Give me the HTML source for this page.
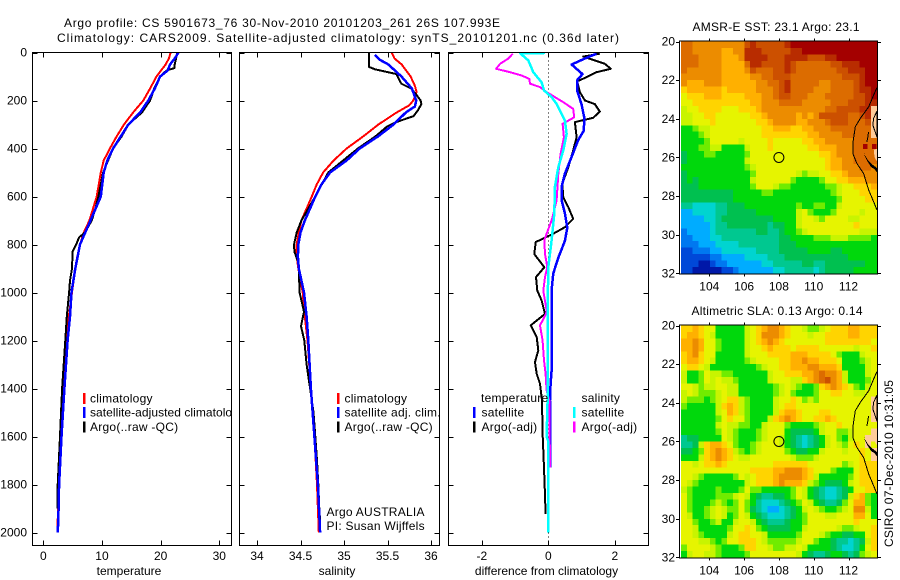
<!DOCTYPE html>
<html>
<head>
<meta charset="utf-8">
<title>Argo profile</title>
<style>
html,body{margin:0;padding:0;background:#fff;width:900px;height:580px;overflow:hidden}
svg{display:block}
text{font-family:"Liberation Sans",Arial,sans-serif;font-size:12px;fill:#000}
</style>
</head>
<body>
<svg id="figure" xmlns="http://www.w3.org/2000/svg" width="900" height="580" viewBox="0 0 900 580">
  <rect x="0" y="0" width="900" height="580" fill="#fff"/>
  <text x="64" y="27" textLength="436" lengthAdjust="spacing">Argo profile: CS 5901673_76 30-Nov-2010 20101203_261 26S 107.993E</text>
  <text x="57" y="42" textLength="562" lengthAdjust="spacing">Climatology: CARS2009. Satellite-adjusted climatology: synTS_20101201.nc (0.36d later)</text>
  <g id="panels"></g>
  <g id="maps"></g>
  <text x="692.5" y="31" textLength="167" lengthAdjust="spacing">AMSR-E SST: 23.1  Argo: 23.1</text>
  <text x="691.5" y="315" textLength="171" lengthAdjust="spacing">Altimetric SLA: 0.13 Argo: 0.14</text>
  <text transform="translate(893,547) rotate(-90)" textLength="167" lengthAdjust="spacing">CSIRO 07-Dec-2010 10:31:05</text>
</svg>
<script>
// ---------- profile data ----------
const depthTicks = [0,200,400,600,800,1000,1200,1400,1600,1800,2000];
const tempTicks = [0,10,20,30];
const salTicks = [34,34.5,35,35.5,36];
const salTickLabels = ["34","34.5","35","35.5","36"];
const diffTicks = [-2,0,2];
const diffTickLabels = ["-2","0","2"];

const tempClimDepth = [0,25,50,100,150,200,250,300,350,400,450,500,600,700,750,800,850,900,1000,1100,1200,1400,1600,1800,1950,2000];
const tempClimValue = [21.7,21.4,20.85,19.3,18.2,17.05,15.3,13.75,12.5,11.35,10.3,9.8,9.1,7.85,6.9,6.25,5.8,5.45,4.9,4.35,4.05,3.5,3.05,2.65,2.45,2.4];
const tempSatDepth = [0,25,50,75,100,150,200,250,300,350,400,450,500,600,700,800,900,1000,1100,1200,1400,1600,1800,1950,2000];
const tempSatValue = [23.05,22.4,21.6,21.2,19.9,19,17.9,16.5,14.5,13.2,11.9,10.9,10.3,9.8,8.05,6.25,5.45,4.8,4.55,4.15,3.6,3.1,2.7,2.55,2.45];
const tempArgoDepth = [0,50,65,75,100,150,200,250,300,350,400,500,600,650,700,750,770,800,830,900,950,1000,1100,1200,1400,1600,1800,1900];
const tempArgoValue = [22.85,22.4,22.35,21,19.9,18.9,18.2,16.8,14.5,13.35,11.9,10.2,9.4,8.9,8.25,7.1,6.1,5.6,5,4.9,4.55,4.4,4,3.75,3.2,2.85,2.45,2.4];

const salClimDepth = [0,25,50,100,140,165,200,220,250,300,350,400,450,500,550,600,700,750,800,850,900,1000,1100,1200,1400,1600,1800,2000];
const salClimValue = [35.548,35.58,35.663,35.766,35.816,35.835,35.797,35.75,35.605,35.395,35.22,35.03,34.88,34.76,34.686,34.63,34.51,34.48,34.456,34.456,34.475,34.525,34.55,34.58,34.62,34.66,34.69,34.71];
const salSatDepth = [10,30,50,100,150,200,225,250,300,350,400,450,500,550,600,650,700,750,800,850,900,1000,1100,1200,1400,1600,1800,2000];
const salSatValue = [35.356,35.41,35.51,35.66,35.78,35.83,35.815,35.71,35.57,35.39,35.18,35.03,34.84,34.74,34.67,34.61,34.55,34.5,34.475,34.47,34.48,34.54,34.57,34.59,34.62,34.66,34.70,34.725];
const salArgoDepth = [0,60,70,90,110,130,150,175,200,215,240,265,290,310,350,400,450,500,600,700,750,800,830,870,900,1000,1080,1140,1200,1300,1400,1500,1600,1700,1800,1900,1950];
const salArgoValue = [35.287,35.287,35.356,35.605,35.63,35.66,35.77,35.83,35.88,35.89,35.85,35.8,35.6,35.49,35.36,35.16,34.99,34.82,34.67,34.51,34.456,34.425,34.43,34.47,34.48,34.49,34.54,34.506,34.544,34.57,34.61,34.65,34.67,34.69,34.705,34.716,34.725];

const diffTempSatDepth = [5,25,50,90,115,160,215,270,325,365,435,505,560,615,670,730,785,855,920,990,1075,1325,1380,1450,1730];
const diffTempSatValue = [1.45,1.1,0.7,1.03,0.87,0.87,1,1.08,1.07,0.9,0.7,0.5,0.4,0.4,0.5,0.57,0.5,0.3,0.15,0.1,0.1,0.1,0.07,0.05,0.05];
const diffTempArgoDepth = [5,17,33,47,68,82,103,120,165,200,215,246,272,290,353,408,478,547,603,644,693,728,755,790,840,867,895,936,992,1033,1089,1137,1186,1241,1290,1339,1380,1450,1589,1658,1797,1922];
const diffTempArgoValue = [1.55,1.05,1.4,1.7,1.88,1.45,1.15,0.87,0.95,1.1,1.4,1.55,1.35,0.8,0.85,0.75,0.6,0.42,0.45,0.6,0.75,0.5,0.15,-0.38,-0.42,-0.27,-0.12,-0.37,-0.33,-0.2,-0.1,-0.53,-0.35,-0.3,-0.4,-0.35,-0.25,-0.19,-0.17,-0.15,-0.11,-0.08];
const diffSalSatDepth = [2,3,33,82,124,158,186,214,283,339,408,478,560,672,783,894,1075,1450,1600,1620,2000];
const diffSalSatValue = [-0.1,-0.85,-0.6,-0.45,-0.2,-0.13,0.1,0.25,0.5,0.55,0.45,0.3,0.2,0.18,0.1,0,-0.02,-0.02,-0.05,0,0];
const diffSalArgoDepth = [5,25,47,68,82,96,110,130,144,165,186,207,235,270,297,353,422,505,617,700,755,783,839,894,936,992,1075,1089,1137,1200,1283,1339,1408,1450,1730];
const diffSalArgoValue = [-1.07,-1.2,-1.45,-1.57,-1.15,-0.8,-0.57,-0.55,-0.25,-0.05,0.2,0.45,0.75,0.78,0.43,0.47,0.37,0.3,0.25,0.1,-0.05,-0.12,-0.1,-0.03,-0.1,-0.15,-0.05,-0.07,-0.25,-0.17,-0.13,-0.08,-0.05,0.03,0.05];

// ---------- map data: one row per latitude band, one character per cell ----------
const mapLonTicks = [104,106,108,110,112];
const mapLatTicks = [20,22,24,26,28,30,32];
const profileLon = [108];
const profileLat = [26];
const colorKeys = "0123456789abcdefghz";
const colorValues = ["#0018a8","#0048d8","#0078f0","#00acff","#00d4d0","#00c890","#00c050","#00d80c","#70ec00","#c8f400","#e6f400","#ffd400","#ffb000","#ec8c00","#dc6c00","#cc5000","#b82c00","#a40000","#ffcc99"];

const sstRows = [
"eeddddddddd"+"fgfffffg"+"hhhhhhhhhhhhhhh",
"eedddddccdd"+"gggfffff"+"gghhhhhhhhhhhhh",
"eeeddddcccd"+"ggggfffg"+"gggfffgghhhhhhh",
"eeeddddcccc"+"eggffffg"+"feeeeeeffggghhh",
"eddddddcccc"+"dfeeeffg"+"feeeeeeeffggghh",
"dddddddcccc"+"cddeefff"+"eeeeeeeeefffghh",
"dcccdddcccc"+"ccddeefg"+"eeeeeddeeeefghh",
"bccccccbccc"+"ccdddefg"+"eeeedddeeeefggh",
"abbbcccbbbb"+"cccddeff"+"eeedddeeeeeffgh",
"aabbbbbbbbb"+"bccdddee"+"eedddddeeefffgg",
"9aabbbbaaab"+"bbcddddd"+"ddddddeeffffggz",
"99aabbaaaaa"+"abbcdddd"+"dcdcdfffffeefgz",
"99aaabaaaaa"+"aabbcddd"+"dccdddefffeeefz",
"77899aaaaaa"+"aaabbccc"+"bbccdddeeeeeeez",
"77789aaaaaa"+"aaabbbbb"+"bbbccddddeeeeez",
"77778aaaaa9"+"aaaabaaa"+"aabbccdddddeeee",
"77788997777"+"9aaabaaa"+"aaabbcccdddeeee",
"67778877777"+"8aaaaaaa"+"aaaaabbcdddeeee",
"67777777777"+"9aaaaaaa"+"aaaaaabccddeeee",
"77777777777"+"89aaaaaa"+"aaaaaabccdddeed",
"67777777777"+"78aaaaaa"+"a9899aabbcddddd",
"67677777777"+"79aaaaaa"+"877778aabbcccdd",
"66677777777"+"78aaa988"+"777777889aabbbc",
"66666666677"+"77788777"+"777777789aaabbb",
"66666666677"+"77777777"+"777777778aaaabb",
"55444455666"+"77777777"+"787788779aaaaaa",
"33444455666"+"66777777"+"79a87778aaaa9aa",
"33334456666"+"66666777"+"79aa98aaaa99aaa",
"33333455666"+"66665667"+"79aaaaaaaaabaaa",
"23333455555"+"55665567"+"789aaaaaaaaa999",
"22333445555"+"55555566"+"777788899988887",
"22233344445"+"55555566"+"677777777777777",
"11222334444"+"44555566"+"666777766777777",
"11111223333"+"44445556"+"666666666677777",
"11100122333"+"33344555"+"556655666666677",
"11000001123"+"33333445"+"555545666667777"
];

const slaRows = [
"bbcbaa77777"+"9abcddcba"+"a9889abbbccbbb",
"bccba977777"+"9abdddcba"+"aa9aabbbbccbbb",
"ccdcaa87777"+"9abcdcbaa"+"aaaaabbbbbbbba",
"ccdcaa87777"+"9aabcbbba"+"bbbbaaaaaa9aab",
"bcdbaa77777"+"9aaabbbbc"+"ccbbbba87779aa",
"bccba977777"+"89aaaabbc"+"cdccbbba77789a",
"abba9777777"+"7789aabbc"+"ccddcccb77779a",
"9778a998877"+"77779aabb"+"bccdeddc97779a",
"9778a9a9987"+"77779aaa9"+"9bcdefdc97778a",
"aa9899aa997"+"7777789a9"+"8778bcdcba879a",
"9a98889a997"+"7777789a8"+"7778aabbaa99aa",
"9888789abb9"+"877779aab"+"a898aaaaaaaaaz",
"8777779bcb9"+"877779abb"+"aaaaaaaaaaaaaz",
"7777779acb9"+"877779bcc"+"baaabbaaaaaaaz",
"7777778abaa"+"87779bcdc"+"baabbcbaaaaaaz",
"7777779a998"+"8779aaa87"+"77789aabaaaaaa",
"7777778a987"+"7789aaa76"+"66679aa889aaaz",
"5667777a987"+"7789aa976"+"545679a879aazz",
"5569bccba87"+"789aaa976"+"545679a98abaza",
"6678bcdcb98"+"789aaaa87"+"66779aaa9aabaz",
"7779bcdcba9"+"9aaaaaaa9"+"8889aaaaaaabaz",
"aa9abbcbaaa"+"aaaaabbbb"+"bbaaaaaa89abbb",
"aaaaaaaaaaa"+"abbbbccdd"+"dcbaaa8777abbb",
"aa98777778a"+"9abbbcddd"+"dcb9777778abbb",
"a9877777777"+"9abbbcdcc"+"cb98766679abbb",
"98777787778"+"a88777778"+"a976544567aabb",
"a877778889a"+"976556678"+"a976544569bc87",
"a877789878a"+"875444567"+"8a9765568acc87",
"a87789a988a"+"865433456"+"79a987789add97",
"a97789a978a"+"976544456"+"78aaa99aaacca7",
"aa87789779a"+"a97655567"+"78aaaaaaaabaaa",
"aa9777778aa"+"ba8766667"+"79aaaaa9889aab",
"aa9877779ab"+"baa977777"+"8aaa98776677ab",
"aaa99878aab"+"bba988888"+"9aa8776554569b",
"8aaaa987778"+"bbaa98899"+"a97777654457ab",
"79aa9987777"+"8aaaaaaaa"+"9765567765689a"
];

// shelf-break contour, coast and islands in lon / lat degrees
const contourLon = [113.64,113.44,113.16,112.68,112.39,112.25,112.25,112.48,112.87,113.16,113.44,113.64];
const contourLat = [22.38,22.78,23.38,23.98,24.41,25.28,25.79,26.31,26.83,27.69,28.29,28.72];
const coastLon = [113.64,113.44,113.4,113.6,113.64];
const coastLat = [23.6,23.98,24.33,24.84,24.95];
const isleLineLon = [113.15,113.12,113.06];
const isleLineLat = [24.67,24.9,25.19];
const isleBlobLon = [112.83,112.95,113.12,113.35,113.64,113.64,113.5,113.3,113.12,112.95];
const isleBlobLat = [25.62,25.9,26.14,26.35,26.55,26.78,26.6,26.5,26.25,25.95];
const isleSandLon = [113.45,113.64,113.64,113.5];
const isleSandLat = [25.6,25.55,26.2,26.0];
const sstLandHotLon = [112.83,113.35];
const sstLandHotLat = [25.31,25.31];

// ---------- helpers ----------
const SVGNS = "http://www.w3.org/2000/svg";
function make(tag, attrs, parent){
  const el = document.createElementNS(SVGNS, tag);
  for (const k in attrs) el.setAttribute(k, attrs[k]);
  parent.appendChild(el);
  return el;
}
function label(parent, x, y, str, anchor){
  const el = make("text", {x:x, y:y, "text-anchor":anchor || "start"}, parent);
  el.textContent = str;
  return el;
}
function pointsOf(depths, values, xFn, yFn){
  return depths.map((d,i) => xFn(values[i]).toFixed(1) + "," + yFn(d).toFixed(1)).join(" ");
}

// ---------- axes ----------
const panelsG = document.getElementById("panels");
const mapsG = document.getElementById("maps");
const PANEL_TOP = 52.5, PANEL_BOTTOM = 545.5;
const yDepth = d => 52.5 + d * 0.24;
const xTemp = t => 43.3 + t * 5.867;
const xSal = s => 257 + (s - 34) * 87;
const xDiff = v => 548.3 + v * 33.25;

function drawSeries(parent, depths, values, xFn, color, name, width){
  const el = make("polyline", {points: pointsOf(depths, values, xFn, yDepth), fill:"none", stroke:color, "stroke-width":width || 2, "stroke-linejoin":"round", "shape-rendering":"crispEdges"}, parent);
  
  
  return el;
}
function drawPanelFrame(parent, left, right, xFn, xTicks, xLabels, xTitle, xTitleX, name, showDepthLabels){
  const box = make("rect", {x:left, y:PANEL_TOP, width:right-left, height:PANEL_BOTTOM-PANEL_TOP, fill:"none", stroke:"#000", "stroke-width":1, "shape-rendering":"crispEdges"}, parent);
  
  
  xTicks.forEach((t,i) => {
    const x = Math.round(xFn(t)) + 0.5;
    const tickTop = make("line", {x1:x, x2:x, y1:PANEL_TOP, y2:PANEL_TOP+5, stroke:"#000", "shape-rendering":"crispEdges"}, parent);
    
    
    const tickBottom = make("line", {x1:x, x2:x, y1:PANEL_BOTTOM-5, y2:PANEL_BOTTOM, stroke:"#000", "shape-rendering":"crispEdges"}, parent);
    
    
    const tl = label(parent, xFn(t), 560, xLabels[i], "middle");
    
    
  });
  depthTicks.forEach(d => {
    const y = Math.round(yDepth(d)) + 0.5;
    const tl = make("line", {x1:left, x2:left+5, y1:y, y2:y, stroke:"#000", "shape-rendering":"crispEdges"}, parent);
    
    
    const tr = make("line", {x1:right-5, x2:right, y1:y, y2:y, stroke:"#000", "shape-rendering":"crispEdges"}, parent);
    
    
    if (showDepthLabels){
      const dl = label(parent, 27, yDepth(d) + 4, String(d), "end");
      
      
    }
  });
  const title = label(parent, xTitleX, 575, xTitle, "middle");
  
  
}
function legendRow(parent, barX, textX, barTop, str, color, name, spacing){
  const bar = make("rect", {x:barX, y:barTop, width:2.5, height:11, fill:color, "shape-rendering":"crispEdges"}, parent);
  
  
  const t = label(parent, textX, barTop + 9.5, str);
  t.setAttribute('letter-spacing', spacing === undefined ? '0.25' : spacing);
  
  
}

// ---------- temperature panel ----------
const tempG = make("g", {}, panelsG);


drawSeries(tempG, tempClimDepth, tempClimValue, xTemp, "#ff0000", "temperature-climatology-line");
drawSeries(tempG, tempArgoDepth, tempArgoValue, xTemp, "#000000", "temperature-argo-line");
drawSeries(tempG, tempSatDepth, tempSatValue, xTemp, "#0000ff", "temperature-satellite-line", 2.5);
drawPanelFrame(tempG, 32.5, 231.5, xTemp, tempTicks, tempTicks.map(String), "temperature", 129, "temperature", true);
legendRow(tempG, 83, 90, 393, "climatology", "#ff0000", "temperature-legend-climatology");
legendRow(tempG, 83, 90, 407, "satellite-adjusted climatology", "#0000ff", "temperature-legend-satellite", "0.05");
legendRow(tempG, 83, 90, 421.5, "Argo(..raw -QC)", "#000000", "temperature-legend-argo");

// ---------- salinity panel (white background hides legend overflow) ----------
const salBg = make("rect", {x:232, y:380, width:207, height:60, fill:"#fff"}, panelsG);


const salG = make("g", {}, panelsG);


drawSeries(salG, salClimDepth, salClimValue, xSal, "#ff0000", "salinity-climatology-line");
drawSeries(salG, salArgoDepth, salArgoValue, xSal, "#000000", "salinity-argo-line");
drawSeries(salG, salSatDepth, salSatValue, xSal, "#0000ff", "salinity-satellite-line", 2.5);
drawPanelFrame(salG, 239.5, 439.5, xSal, salTicks, salTickLabels, "salinity", 337, "salinity", false);
legendRow(salG, 337, 344.5, 393, "climatology", "#ff0000", "salinity-legend-climatology");
legendRow(salG, 337, 344.5, 407, "satellite adj. clim.", "#0000ff", "salinity-legend-satellite");
legendRow(salG, 337, 344.5, 421.5, "Argo(..raw -QC)", "#000000", "salinity-legend-argo");
const creditA = label(salG, 326.5, 516, "Argo AUSTRALIA");
creditA.setAttribute('letter-spacing', '0.25');


const creditB = label(salG, 326.5, 530, "PI: Susan Wijffels");
creditB.setAttribute('letter-spacing', '0.25');



// ---------- difference panel ----------
const diffG = make("g", {}, panelsG);


const zeroLine = make("line", {x1:xDiff(0), x2:xDiff(0), y1:PANEL_TOP, y2:PANEL_BOTTOM, stroke:"#000", "stroke-dasharray":"1 3", "shape-rendering":"crispEdges"}, diffG);


drawSeries(diffG, diffTempArgoDepth, diffTempArgoValue, xDiff, "#000000", "difference-temperature-argo-line");
drawSeries(diffG, diffTempSatDepth, diffTempSatValue, xDiff, "#0000ff", "difference-temperature-satellite-line", 2.5);
drawSeries(diffG, diffSalArgoDepth, diffSalArgoValue, xDiff, "#ff00ff", "difference-salinity-argo-line");
drawSeries(diffG, diffSalSatDepth, diffSalSatValue, xDiff, "#00ffff", "difference-salinity-satellite-line", 2.5);
drawPanelFrame(diffG, 448.5, 648.5, xDiff, diffTicks, diffTickLabels, "difference from climatology", 546.5, "difference", false);
const legendTempHead = label(diffG, 481, 402, "temperature");
legendTempHead.setAttribute('letter-spacing', '0.25');


const legendSalHead = label(diffG, 581.5, 402, "salinity");
legendSalHead.setAttribute('letter-spacing', '0.25');


legendRow(diffG, 473, 481.5, 407, "satellite", "#0000ff", "difference-legend-temperature-satellite");
legendRow(diffG, 473, 481.5, 421.5, "Argo(-adj)", "#000000", "difference-legend-temperature-argo");
legendRow(diffG, 573, 581.5, 407, "satellite", "#00ffff", "difference-legend-salinity-satellite");
legendRow(diffG, 573, 581.5, 421.5, "Argo(-adj)", "#ff00ff", "difference-legend-salinity-argo");

// ---------- maps ----------
const MAP_LEFT = 681, MAP_RIGHT = 876.5;
const xLon = lon => 709.3 + (lon - 104) * 17.4;
function drawMap(rows, top, name, hotLon, hotLat){
  const yLat = lat => top + (lat - 20) * 19.33;
  const bottom = yLat(32);
  const g = make("g", {}, mapsG);
  
  
  const cw = (MAP_RIGHT - MAP_LEFT) / rows[0].length;
  const ch = (bottom - top) / rows.length;
  rows.forEach((row, r) => {
    for (let c = 0; c < row.length; c++){
      const cell = make("rect", {x:(MAP_LEFT + c*cw).toFixed(2), y:(top + r*ch).toFixed(2), width:(cw+0.4).toFixed(2), height:(ch+0.4).toFixed(2), fill:colorValues[colorKeys.indexOf(row[c])], "shape-rendering":"crispEdges"}, g);
      
      
    }
  });
  hotLon.forEach((lon,i) => {
    const hot = make("rect", {x:xLon(lon).toFixed(1), y:yLat(hotLat[i]).toFixed(1), width:4.5, height:5, fill:"#a40000", "shape-rendering":"crispEdges"}, g);
    
    
  });
  const ptsOf = (lons, lats) => lons.map((l,i) => xLon(l).toFixed(1) + "," + yLat(lats[i]).toFixed(1)).join(" ");
  const land = make("polygon", {points:ptsOf(coastLon, coastLat), fill:"#ffcc99", stroke:"#000", "stroke-width":1, "shape-rendering":"crispEdges"}, g);
  
  
  const sand = make("polygon", {points:ptsOf(isleSandLon, isleSandLat), fill:"#ffcc99", "shape-rendering":"crispEdges"}, g);
  
  
  const blob = make("polygon", {points:ptsOf(isleBlobLon, isleBlobLat), fill:"#000", "shape-rendering":"crispEdges"}, g);
  
  
  const isle = make("polyline", {points:ptsOf(isleLineLon, isleLineLat), fill:"none", stroke:"#000", "stroke-width":1, "shape-rendering":"crispEdges"}, g);
  
  
  const contour = make("polyline", {points:ptsOf(contourLon, contourLat), fill:"none", stroke:"#000", "stroke-width":1, "shape-rendering":"crispEdges"}, g);
  
  
  profileLon.forEach((lon,i) => {
    const marker = make("circle", {cx:xLon(lon), cy:yLat(profileLat[i]), r:5, fill:"none", stroke:"#000", "stroke-width":1}, g);
    
    
  });
  const frame = make("path", {d:`M679.5 ${top-0.5}H877.5V${bottom+0.5}H679.5Z`, fill:"none", stroke:"#000", "stroke-width":1, "shape-rendering":"crispEdges"}, g);
  
  
  mapLonTicks.forEach(lon => {
    const x = Math.round(xLon(lon)) + 0.5;
    const t1 = make("line", {x1:x, x2:x, y1:top-3, y2:top, stroke:"#000", "shape-rendering":"crispEdges"}, g);
    
    
    const t2 = make("line", {x1:x, x2:x, y1:bottom, y2:bottom+3, stroke:"#000", "shape-rendering":"crispEdges"}, g);
    
    
    const tl = label(g, xLon(lon), bottom + 17, String(lon), "middle");
    
    
  });
  mapLatTicks.forEach(lat => {
    const y = Math.round(yLat(lat)) + 0.5;
    const t1 = make("line", {x1:676, x2:680, y1:y, y2:y, stroke:"#000", "shape-rendering":"crispEdges"}, g);
    
    
    const t2 = make("line", {x1:877, x2:881, y1:y, y2:y, stroke:"#000", "shape-rendering":"crispEdges"}, g);
    
    
    const tl = label(g, 675, yLat(lat) + 4, String(lat), "end");
    
    
  });
}
drawMap(sstRows, 41.5, "sst-map", sstLandHotLon, sstLandHotLat);
drawMap(slaRows, 325.5, "sla-map", [], []);
</script>
</body>
</html>
